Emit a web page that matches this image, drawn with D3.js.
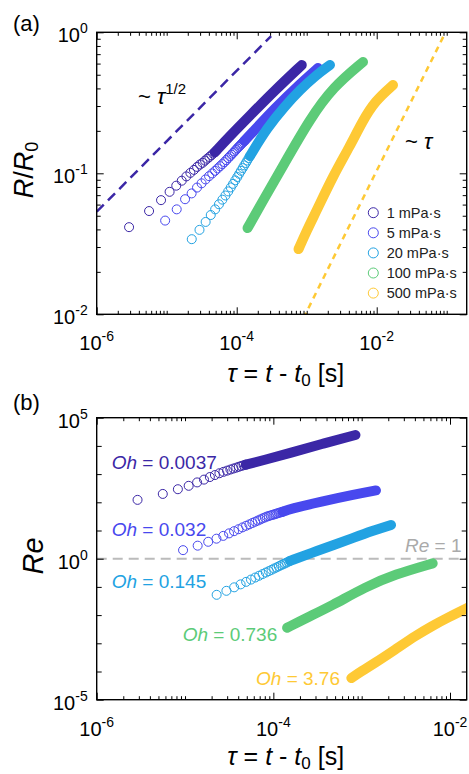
<!DOCTYPE html>
<html>
<head>
<meta charset="utf-8">
<script src="https://cdn.jsdelivr.net/npm/d3@7"></script>
<style>
body { margin: 0; background: #fff; }
svg { font-family: "Liberation Sans", Arial, sans-serif; }
</style>
</head>
<body>
<svg id="chart" width="469" height="774"></svg>
<script>
// ---- data ----
const viscosities = ["1 mPa·s", "5 mPa·s", "20 mPa·s", "100 mPa·s", "500 mPa·s"]
const ohNumbers = ["0.0037", "0.032", "0.145", "0.736", "3.76"]

// early frames, drawn as open circles (tau in s)
const ringTau1 = [2.9e-6, 5.6e-6, 8.3e-6, 1.10e-5, 1.37e-5, 1.64e-5, 1.91e-5, 2.18e-5, 2.45e-5, 2.72e-5, 2.99e-5, 3.26e-5, 3.53e-5, 3.80e-5, 4.07e-5, 4.34e-5, 4.61e-5, 4.88e-5]
const ringR1 = [0.0415, 0.0540, 0.0645, 0.0739, 0.0817, 0.0886, 0.0951, 0.1007, 0.1057, 0.1110, 0.1155, 0.1187, 0.1231, 0.1269, 0.1307, 0.1341, 0.1379, 0.1411]
const ringRe1 = [122, 198, 291, 384, 507, 637, 787, 926, 1072, 1202, 1326, 1451, 1574, 1693, 1823, 1946, 2060, 2163]

const ringTau2 = [9.5e-6, 1.39e-5, 1.83e-5, 2.27e-5, 2.71e-5, 3.15e-5, 3.59e-5, 4.03e-5, 4.47e-5, 4.91e-5, 5.35e-5, 5.79e-5, 6.23e-5, 6.67e-5,
    7.11e-5, 7.55e-5, 7.99e-5, 8.43e-5, 8.87e-5, 9.31e-5, 9.75e-5, 1.019e-4, 1.063e-4, 1.107e-4, 1.151e-4, 1.195e-4, 1.239e-4, 1.283e-4]
const ringR2 = [0.0462, 0.0555, 0.0655, 0.0720, 0.0792, 0.0849, 0.0905, 0.0954, 0.0998, 0.1041, 0.1083, 0.1123, 0.1162, 0.1201,
    0.1240, 0.1282, 0.1320, 0.1357, 0.1395, 0.1429, 0.1466, 0.1502, 0.1537, 0.1567, 0.1601, 0.1632, 0.1662, 0.1695]
const ringRe2 = [2.01, 2.90, 3.98, 5.13, 6.45, 7.91, 9.46, 11.1, 12.9, 14.7, 16.5, 18.5, 20.5, 22.5,
    24.6, 26.9, 28.9, 31.1, 32.7, 34.3, 35.7, 37.2, 38.8, 40.4, 42.1, 43.5, 44.9, 46.4]

const ringTau3 = [2.28e-5, 2.94e-5, 3.60e-5, 4.26e-5, 4.92e-5, 5.58e-5, 6.24e-5, 6.90e-5, 7.56e-5, 8.22e-5, 8.88e-5, 9.54e-5, 1.02e-4, 1.086e-4, 1.152e-4, 1.218e-4, 1.284e-4, 1.35e-4, 1.416e-4, 1.482e-4, 1.548e-4]
const ringR3 = [0.0341, 0.0397, 0.0452, 0.0506, 0.0555, 0.0603, 0.0650, 0.0696, 0.0744, 0.0794, 0.0842, 0.0892, 0.0941, 0.0992, 0.1041, 0.1089, 0.1138, 0.1183, 0.1232, 0.1282, 0.1327]
const ringRe3 = [0.0524, 0.0726, 0.0966, 0.123, 0.151, 0.182, 0.215, 0.249, 0.286, 0.323, 0.362, 0.403, 0.448, 0.490, 0.536, 0.586, 0.631, 0.679, 0.731, 0.786, 0.839]

// later frames overlap into a solid band
const bandTau1 = [4.88e-5, 8.0e-5, 1.55e-4, 3.5e-4, 8.5e-4]
const bandR1 = [0.1411, 0.184, 0.257, 0.387, 0.586]
const bandRe1 = [2163, 3200, 5623, 11700, 24400]

const bandTau2 = [1.283e-4, 1.55e-4, 3.52e-4, 8.0e-4, 1.45e-3]
const bandR2 = [0.1695, 0.187, 0.290, 0.430, 0.558]
const bandRe2 = [46.4, 58.3, 107, 186, 264]

const bandTau3 = [1.548e-4, 2.71e-4, 4.90e-4, 8.01e-4, 1.32e-3, 2.15e-3]
const bandR3 = [0.1327, 0.2096, 0.300, 0.390, 0.490, 0.586]
const bandRe3 = [0.839, 1.61, 3.10, 5.48, 9.70, 15.8]

const bandTau4 = [1.43e-4, 2.38e-4, 4.58e-4, 1.11e-3, 2.38e-3, 6.37e-3]
const bandR4 = [0.0409, 0.0641, 0.1126, 0.2427, 0.409, 0.616]
const bandRe4 = [0.00355, 0.00803, 0.0214, 0.1007, 0.279, 0.684]

const bandTau5 = [7.64e-4, 1.01e-3, 1.40e-3, 2.38e-3, 4.16e-3, 6.17e-3, 9.46e-3, 1.71e-2]
const bandR5 = [0.0290, 0.0396, 0.0549, 0.0957, 0.1562, 0.231, 0.326, 0.423]
const bandRe5 = [5.87e-5, 1.06e-4, 1.96e-4, 5.90e-4, 1.93e-3, 4.02e-3, 8.22e-3, 0.0205]

// scaling guides in (a)
const guideHalfTau = [1e-6, 3.1e-4], guideHalfR = [0.0534, 0.94]
const guideOneTau = [9e-4, 0.096], guideOneR = [0.0094, 1]
const reOne = 1

const xMajor = [1e-6, 1e-4, 1e-2]
const yMajorA = [1e-2, 1e-1, 1]
const yMajorB = [1e-5, 1, 1e5]

// ---- styles ----
const colors = ["#3b27a6", "#4848ee", "#22a2e2", "#5ccb78", "#fec935"]
const ringTaus = [ringTau1, ringTau2, ringTau3, [], []]
const ringRs = [ringR1, ringR2, ringR3, [], []]
const ringRes = [ringRe1, ringRe2, ringRe3, [], []]
const bandTaus = [bandTau1, bandTau2, bandTau3, bandTau4, bandTau5]
const bandRs = [bandR1, bandR2, bandR3, bandR4, bandR5]
const bandRes = [bandRe1, bandRe2, bandRe3, bandRe4, bandRe5]

const series = viscosities.map((name, i) => ({
    name,
    oh: ohNumbers[i],
    color: colors[i],
    ring: { R: ringTaus[i].map((t, j) => ({ t, v: ringRs[i][j] })), Re: ringTaus[i].map((t, j) => ({ t, v: ringRes[i][j] })) },
    band: { R: bandTaus[i].map((t, j) => ({ t, v: bandRs[i][j] })), Re: bandTaus[i].map((t, j) => ({ t, v: bandRes[i][j] })) }
}))

const svg = d3.select("#chart")
const left = 96.7, plotW = 370, plotH = 282

const decadeTicks = function (lo, hi, every) {
    const ret = []
    for (let e = Math.floor(Math.log10(lo)) - 1; e <= Math.ceil(Math.log10(hi)); e++) {
        for (let k = 1; k < 10; k += every) {
            const v = +(k + 'e' + e)
            if (v >= lo * 0.999 && v <= hi * 1.001) ret.push(v)
        }
    }
    return ret
}
const notIn = (arr, majors) => arr.filter(v => !majors.some(m => Math.abs(v / m - 1) < 1e-6))

const makePanel = function (id, top, xDomain, yDomain) {
    const x = d3.scaleLog().domain(xDomain).range([0, plotW])
    const y = d3.scaleLog().domain(yDomain).range([plotH, 0])
    const g = svg.append("g").attr("transform", `translate(${left},${top})`)
    g.append("clipPath").attr("id", "clip-" + id)
        .append("rect").attr("width", plotW).attr("height", plotH)
    const plot = g.append("g").attr("clip-path", `url(#clip-${id})`)
    return { g, plot, x, y }
}

const tickGroup = function (g, axis, transform) {
    g.append("g").attr("transform", transform)
        .call(axis.tickFormat("").tickSizeOuter(0))
        .call(s => s.select(".domain").remove())
        .call(s => s.selectAll("line").attr("stroke", "#000").attr("stroke-width", 1))
}

const drawFrame = function (p, yMajor, yMinor, yMinorLen) {
    const xMinor = notIn(decadeTicks(p.x.domain()[0], p.x.domain()[1], 1), xMajor)
    tickGroup(p.g, d3.axisBottom(p.x).tickValues(xMajor).tickSize(-7), `translate(0,${plotH})`)
    tickGroup(p.g, d3.axisBottom(p.x).tickValues(xMinor).tickSize(-3.5), `translate(0,${plotH})`)
    tickGroup(p.g, d3.axisTop(p.x).tickValues(xMajor).tickSize(-7), "translate(0,0)")
    tickGroup(p.g, d3.axisTop(p.x).tickValues(xMinor).tickSize(-3.5), "translate(0,0)")
    tickGroup(p.g, d3.axisLeft(p.y).tickValues(yMajor).tickSize(-7), "translate(0,0)")
    tickGroup(p.g, d3.axisLeft(p.y).tickValues(yMinor).tickSize(-yMinorLen), "translate(0,0)")
    tickGroup(p.g, d3.axisRight(p.y).tickValues(yMajor).tickSize(-7), `translate(${plotW},0)`)
    tickGroup(p.g, d3.axisRight(p.y).tickValues(yMinor).tickSize(-yMinorLen), `translate(${plotW},0)`)

    p.g.append("rect").attr("width", plotW).attr("height", plotH)
        .attr("fill", "none").attr("stroke", "#000").attr("stroke-width", 1.4)

    // 10^n labels
    xMajor.forEach(v => {
        const t = p.g.append("text").attr("x", p.x(v)).attr("y", plotH + 36)
            .attr("text-anchor", "middle").attr("font-size", 20)
        t.append("tspan").text("10")
        t.append("tspan").attr("font-size", 14).attr("dy", -9).text(Math.round(Math.log10(v)))
    })
    yMajor.forEach(v => {
        const t = p.g.append("text").attr("x", -9).attr("y", p.y(v) + 10)
            .attr("text-anchor", "end").attr("font-size", 20)
        t.append("tspan").text("10")
        t.append("tspan").attr("font-size", 14).attr("dy", -9).text(Math.round(Math.log10(v)))
    })
}

const xTitle = function (p, dy) {
    const t = p.g.append("text").attr("x", 189).attr("y", plotH + dy)
        .attr("text-anchor", "middle").attr("font-size", 25)
    t.append("tspan").attr("font-style", "italic").text("τ")
    t.append("tspan").text(" = ")
    t.append("tspan").attr("font-style", "italic").text("t")
    t.append("tspan").text(" - ")
    t.append("tspan").attr("font-style", "italic").text("t")
    t.append("tspan").attr("font-size", 17).attr("dy", 4).text("0")
    t.append("tspan").attr("dy", -4).text(" [s]")
}

const drawSeries = function (p, key) {
    const line = d3.line().x(d => p.x(d.t)).y(d => p.y(d.v)).curve(d3.curveBasis)
    for (let s of series) {
        p.plot.selectAll(null)
            .data(s.ring[key])
            .join("circle")
            .attr("cx", d => p.x(d.t))
            .attr("cy", d => p.y(d.v))
            .attr("r", 4.5)
            .attr("fill", "none")
            .attr("stroke", s.color)
            .attr("stroke-width", 1)
        p.plot.append("path")
            .datum(s.band[key])
            .attr("d", line)
            .attr("fill", "none")
            .attr("stroke", s.color)
            .attr("stroke-width", 10)
            .attr("stroke-linecap", "round")
            .attr("stroke-linejoin", "round")
    }
}

// ---- panel (a) ----
const pa = makePanel("a", 32.3, [1e-6, 0.193], [0.01, 1])
const guide = d3.line().x(d => pa.x(d[0])).y(d => pa.y(d[1]))
pa.plot.append("path").datum(d3.zip(guideHalfTau, guideHalfR)).attr("d", guide)
    .attr("stroke", colors[0]).attr("stroke-width", 2.5).attr("stroke-dasharray", "10,6").attr("fill", "none")
pa.plot.append("path").datum(d3.zip(guideOneTau, guideOneR)).attr("d", guide)
    .attr("stroke", colors[4]).attr("stroke-width", 2.5).attr("stroke-dasharray", "6,5").attr("fill", "none")
drawSeries(pa, "R")
drawFrame(pa, yMajorA, notIn(decadeTicks(0.01, 1, 1), yMajorA), 4)
xTitle(pa, 68)

const half = pa.g.append("text").attr("x", 138 - left).attr("y", 104 - 32.3).attr("font-size", 22)
half.append("tspan").text("~ ")
half.append("tspan").attr("font-style", "italic").text("τ")
half.append("tspan").attr("font-size", 15).attr("dy", -10).text("1/2")
const one = pa.g.append("text").attr("x", 405 - left).attr("y", 149 - 32.3).attr("font-size", 22)
one.append("tspan").text("~ ")
one.append("tspan").attr("font-style", "italic").text("τ")

const legend = pa.g.append("g").attr("transform", `translate(${373.3 - left},${212.7 - 32.3})`)
series.forEach((s, i) => {
    const row = legend.append("g").attr("transform", `translate(0,${i * 20.1})`)
    row.append("circle").attr("r", 5).attr("fill", "none").attr("stroke", s.color).attr("stroke-width", 1)
    row.append("text").attr("x", 13.4).attr("y", 5.2).attr("font-size", 14.5).attr("fill", "#222").text(s.name)
})

const rTitle = svg.append("text").attr("transform", "translate(33,170) rotate(-90)")
    .attr("text-anchor", "middle").attr("font-size", 27)
rTitle.append("tspan").attr("font-style", "italic").text("R")
rTitle.append("tspan").text("/")
rTitle.append("tspan").attr("font-style", "italic").text("R")
rTitle.append("tspan").attr("font-size", 18).attr("dy", 5).text("0")

svg.append("text").attr("x", 13).attr("y", 31).attr("font-size", 22).text("(a)")

// ---- panel (b) ----
const pb = makePanel("b", 417.7, [1e-6, 0.01545], [1e-5, 1e5])
pb.plot.append("line")
    .attr("x1", 0).attr("x2", plotW)
    .attr("y1", pb.y(reOne)).attr("y2", pb.y(reOne))
    .attr("stroke", "#bbbbbb").attr("stroke-width", 2).attr("stroke-dasharray", "10,6")
drawSeries(pb, "Re")
drawFrame(pb, yMajorB, notIn(decadeTicks(1e-5, 1e5, 10), yMajorB), 5)
xTitle(pb, 65)

const ohPos = [[111.7, 469.3], [111.7, 536], [111.7, 588.3], [182.7, 641], [256, 685]]
series.forEach((s, i) => {
    const t = svg.append("text").attr("x", ohPos[i][0]).attr("y", ohPos[i][1])
        .attr("font-size", 19).attr("fill", s.color)
    t.append("tspan").attr("font-style", "italic").text("Oh")
    t.append("tspan").text(" = " + s.oh)
})
const reLabel = svg.append("text").attr("x", 405).attr("y", 552.3).attr("font-size", 19).attr("fill", "#aaaaaa")
reLabel.append("tspan").attr("font-style", "italic").text("Re")
reLabel.append("tspan").text(" = 1")

svg.append("text").attr("transform", "translate(43,556) rotate(-90)")
    .attr("text-anchor", "middle").attr("font-size", 29).attr("font-style", "italic").text("Re")

svg.append("text").attr("x", 13).attr("y", 410).attr("font-size", 22).text("(b)")
</script>
</body>
</html>
